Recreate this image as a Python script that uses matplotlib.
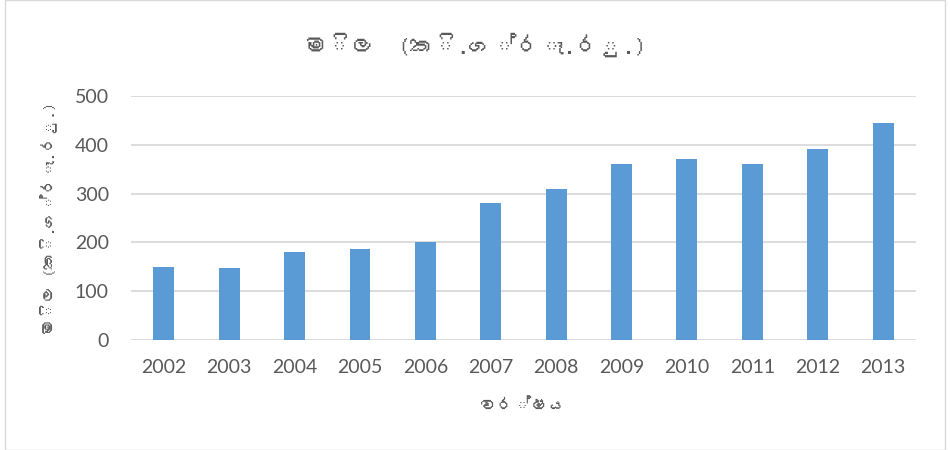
import matplotlib
matplotlib.use("Agg")
import matplotlib.pyplot as plt
from matplotlib import font_manager
from fontTools.ttLib import TTFont

# データ
years = ["2002", "2003", "2004", "2005", "2006", "2007",
         "2008", "2009", "2010", "2011", "2012", "2013"]
price = [150, 148, 180, 186, 200, 280, 310, 360, 370, 360, 392, 445]

# ZWJ は matplotlib では豆腐になるので外す
title_text = "මිල  (කි.ග්රෑ.රු.)"
ylabel_text = "මිල (කි.ග්රෑ.රු.)"
xlabel_text = "වර්ෂය"


def sinhala_family():
    # Sinhala glyph を持つフォントを探す
    for path in font_manager.findSystemFonts():
        try:
            f = TTFont(path, fontNumber=0, lazy=True)
            cmap = f.getBestCmap() or {}
            if 0x0DB8 in cmap:
                return font_manager.FontProperties(fname=path).get_name()
        except Exception:
            continue
    return None


fam = sinhala_family()
fams = ([fam] if fam else []) + ["Lato", "DejaVu Sans"]
plt.rcParams["font.family"] = ["Lato", "DejaVu Sans"]

grey = "#595959"
fig = plt.figure(figsize=(9.5, 4.5), dpi=100)
ax = fig.add_axes([0.138, 0.2444, 0.826, 0.5423])

x = range(len(years))
ax.bar(x, price, width=0.32, color="#5b9bd5", zorder=3)

ax.set_xlim(-0.5, len(years) - 0.5)
ax.set_ylim(0, 500)
ax.set_yticks(range(0, 501, 100))
ax.set_xticks(list(x))
ax.set_xticklabels(years)
ax.yaxis.grid(True, color="#d9d9d9", linewidth=1.3, zorder=0)
for s in ax.spines.values():
    s.set_visible(False)
ax.tick_params(axis="both", length=0, labelsize=14, labelcolor=grey)
ax.tick_params(axis="x", pad=14)
ax.tick_params(axis="y", pad=16)

ax.set_xlabel(xlabel_text, family=fams, fontsize=12.5, color=grey, labelpad=16)
ax.set_ylabel(ylabel_text, family=fams, fontsize=12, color=grey, labelpad=12)
fig.text(0.5, 0.9, title_text, family=fams, fontsize=17, color=grey,
         ha="center", va="center")

# 外枠
fig.patches.append(plt.Rectangle((0.005, 0.0), 0.99, 1.0, transform=fig.transFigure,
                                 fill=False, edgecolor="#d9d9d9", linewidth=1))

fig.savefig("out.png", dpi=100)
